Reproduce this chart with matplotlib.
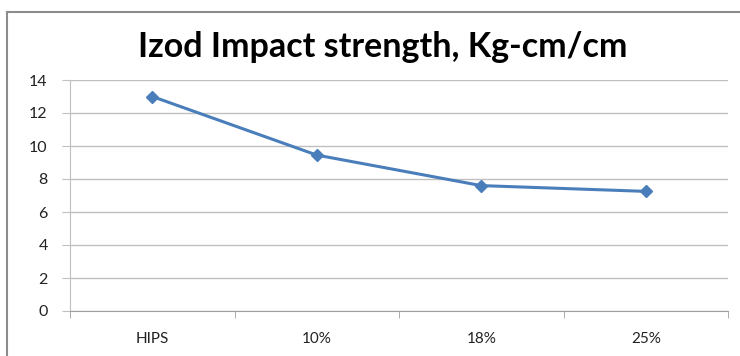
import matplotlib.pyplot as plt
from matplotlib.lines import Line2D
import numpy as np

categories = ["HIPS", "10%", "18%", "25%"]
impact_strength = [13.0, 9.45, 7.6, 7.25]
y_ticks = [0, 2, 4, 6, 8, 10, 12, 14]

plt.rcParams['font.family'] = ['Lato', 'DejaVu Sans']

fig = plt.figure(figsize=(7.4, 3.56), dpi=100)
ax = fig.add_axes([70 / 740, 1 - 311 / 356, 658 / 740, 231 / 356])

x = np.arange(len(categories))
ax.plot(x, impact_strength, color='#4a7ebb', linewidth=2.2, marker='D',
        markersize=6.5, markerfacecolor='#4a7ebb', markeredgecolor='#4a7ebb',
        zorder=3)

ax.set_xlim(-0.5, len(categories) - 0.5)
ax.set_ylim(0, 14)
ax.set_yticks(y_ticks)
ax.set_xticks(x)
ax.set_xticklabels(categories)
ax.set_xticks(np.arange(-0.5, len(categories)), minor=True)

# gridlines with small stubs reaching left of the value axis
ax.yaxis.grid(True, color='#c0c0c0', linewidth=1.0)
ax.tick_params(axis='y', length=6, color='#c0c0c0', labelsize=11.5, pad=10,
               labelcolor='#222222')
ax.tick_params(axis='x', which='major', length=0, labelsize=11, pad=15,
               labelcolor='#222222')
ax.tick_params(axis='x', which='minor', length=5, color='#a0a0a0')

for side in ['top', 'right']:
    ax.spines[side].set_visible(False)
ax.spines['left'].set_color('#c0c0c0')
ax.spines['bottom'].set_color('#a0a0a0')

fig.text(383 / 740, 1 - 47 / 356, "Izod Impact strength, Kg-cm/cm",
         ha='center', va='center', fontsize=24.5, fontweight='bold')

# outer chart frame
fig.add_artist(Line2D([7 / 740, 1.0], [1 - 11.5 / 356] * 2, color='#8c8c8c',
                      linewidth=1.5, transform=fig.transFigure))
fig.add_artist(Line2D([7 / 740] * 2, [0.0, 1 - 11.5 / 356], color='#8c8c8c',
                      linewidth=1.5, transform=fig.transFigure))

fig.savefig('out.png', dpi=100)
